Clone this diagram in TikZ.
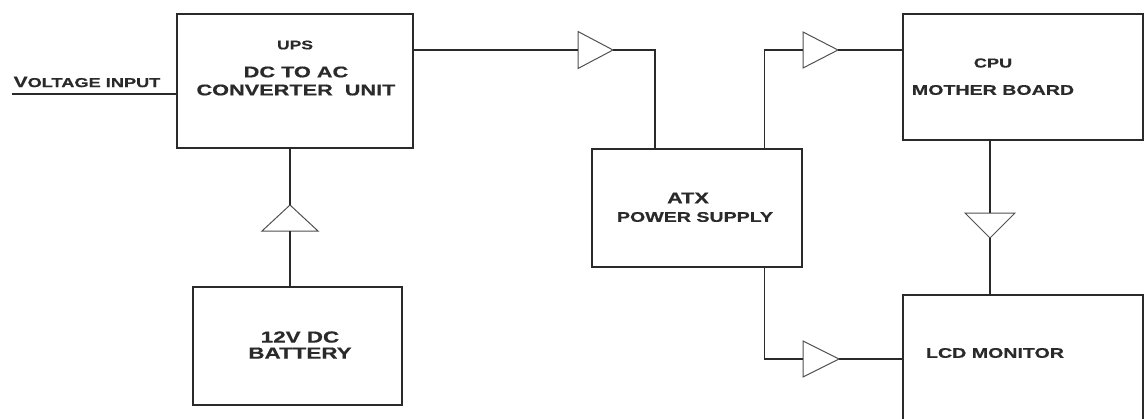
\documentclass[tikz,border=0pt]{standalone}
\usepackage{fontspec}
\setmainfont{Liberation Sans Bold}[FakeStretch=1.4,FakeBold=0.6]
\usetikzlibrary{calc,shapes.geometric}
\definecolor{ink}{HTML}{2A2A2A}
\definecolor{buf}{HTML}{505050}

\begin{document}
\begin{tikzpicture}[x=1pt,y=-1pt,
    block/.style={draw=ink,line width=1.6pt,rectangle,anchor=north west,inner sep=0pt,outer sep=0pt},
    buffer/.style={draw=buf,line width=1pt,isosceles triangle,isosceles triangle stretches,
        inner sep=0pt,outer sep=0pt,anchor=lower side},
    wire/.style={draw=ink,line width=1.3pt},
    lbl/.style={text=ink,font=\fontsize{14}{15}\selectfont,align=center,inner sep=0pt}]

\useasboundingbox (0,0) rectangle (1146,418);

% Blocs
\node[block,minimum width=236pt,minimum height=134pt] (ups) at (177,14) {};
\node[block,minimum width=209pt,minimum height=118pt] (bat) at (193,287) {};
\node[block,minimum width=210pt,minimum height=118pt] (atx) at (592,149) {};
\node[block,minimum width=240pt,minimum height=126pt] (cpu) at (903,14) {};
\node[block,minimum width=240pt,minimum height=170pt] (lcd) at (903,295) {};

% Textes
\node[lbl,font=\fontsize{12.5}{13}\selectfont] (upsA) at (295,45) {UPS};
\node[lbl,font=\fontsize{15.5}{18}\selectfont] (upsB) at (296,81) {DC TO AC\\CONVERTER\ \ UNIT};
\node[lbl,font=\fontsize{16}{16}\selectfont] (batA) at (300,345) {12V DC\\BATTERY};
\node[lbl,font=\fontsize{15.5}{16}\selectfont] (atxA) at (688,198) {ATX};
\node[lbl] (atxB) at (695,217) {POWER SUPPLY};
\node[lbl,font=\fontsize{13}{14}\selectfont] (cpuA) at (993,63) {CPU};
\node[lbl] (cpuB) at (993,90) {MOTHER BOARD};
\node[lbl] (lcdA) at (995,353) {LCD MONITOR};
\node[lbl,font=\fontsize{15}{16}\selectfont] (vinA) at (87,82)
{V{\fontsize{13}{14}\selectfont OLTAGE INPUT}};

% Buffers
\node[buffer,minimum width=37pt,minimum height=35pt] (b1) at (578,50) {};
\node[buffer,minimum width=36pt,minimum height=35pt] (b2) at (803,50) {};
\node[buffer,minimum width=36pt,minimum height=36pt] (b3) at (803,359) {};
\node[buffer,minimum width=56pt,minimum height=26pt,rotate=90] (b4) at (290,231) {};
\node[buffer,minimum width=50pt,minimum height=25pt,rotate=-90] (b5) at (990,213) {};

% Liaisons
\coordinate (vin) at (12,94);
\draw[wire] (vin) -- (vin -| ups.west);
\draw[wire] (b1.lower side -| ups.east) -- (b1.lower side);
\draw[wire] (b1.apex) -| ($(atx.north west)!.3!(atx.north east)$);
\draw[wire] ($(atx.north west)!.82!(atx.north east)$) |- (b2.lower side);
\draw[wire] (b2.apex) -- (b2.apex -| cpu.west);
\draw[wire] ($(atx.south west)!.82!(atx.south east)$) |- (b3.lower side);
\draw[wire] (b3.apex) -- (b3.apex -| lcd.west);
\draw[wire] (b4.apex) -- (b4.apex |- ups.south);
\draw[wire] (b4.lower side) -- (b4.lower side |- bat.north);
\draw[wire] (b5.lower side |- cpu.south) -- (b5.lower side);
\draw[wire] (b5.apex) -- (b5.apex |- lcd.north);

\end{tikzpicture}
\end{document}
